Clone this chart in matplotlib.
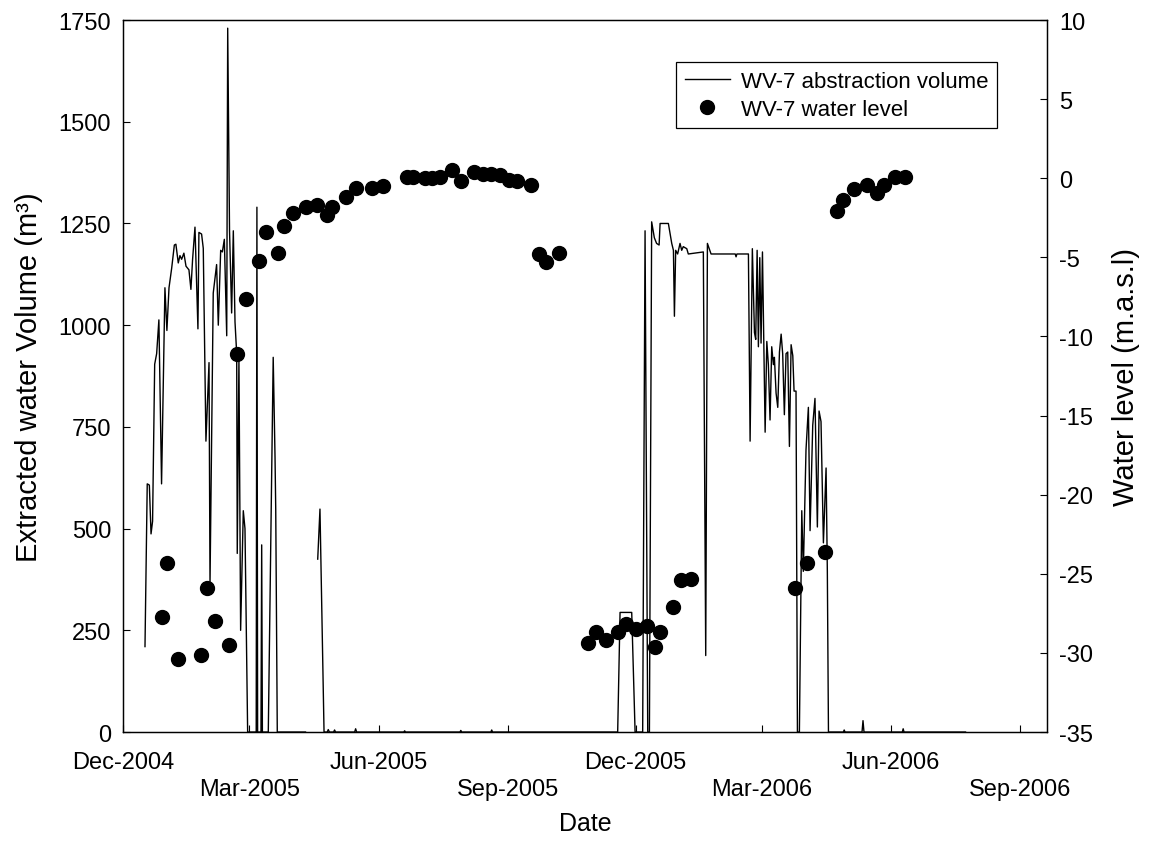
import numpy as np
import pandas as pd
import matplotlib
matplotlib.use("Agg")
import matplotlib.pyplot as plt

plt.rcParams['font.family'] = ['Liberation Sans', 'DejaVu Sans']
plt.rcParams['axes.unicode_minus'] = False

nan = np.nan
start = pd.Timestamp('2004-12-01')

# abstraction volume (days after 1 Dec 2004, m3)
vol_day = [
    15.7, 17.3, 18.8, 20.0, 21.1, 22.6, 24.0, 25.6, 27.5, 29.9,
    31.3, 32.8, 34.7, 36.6, 37.7, 39.4, 40.6, 41.8, 43.4, 44.9,
    47.0, 48.4, 49.6, 51.3, 53.4, 54.1, 56.0, 57.2, 59.1, 61.3,
    62.0, 64.3, 66.7, 67.9, 69.6, 70.8, 72.2, 73.9, 74.6, 75.9,
    77.4, 78.6, 79.8, 81.0, 81.4, 82.6, 83.8, 85.7, 86.9, 88.8,
    94.9, 95.4, 95.9, 98.3, 98.8, 99.3, 103.5, 107.0, 108.3, 108.8,
    109.9, 130.0, 136.0, 138.7, 140.3, 143.2, 145.5, 146.2, 147.0, 150.0,
    150.7, 151.4, 165.0, 165.7, 166.4, 200.0, 200.6, 201.2, 240.0, 240.6,
    241.2, 262.0, 262.6, 263.2, 352.3, 354.0, 362.3, 364.7, 370.1, 371.8,
    373.7, 374.9, 376.5, 378.4, 380.0, 381.8, 382.5, 388.4, 390.8, 392.0,
    392.7, 393.6, 395.0, 396.7, 397.9, 399.0, 401.5, 402.6, 413.3, 415.0,
    416.2, 418.8, 436.0, 436.6, 437.2, 445.4, 446.6, 448.2, 449.7, 450.6,
    451.6, 452.5, 453.5, 454.4, 455.4, 456.3, 457.3, 458.5, 459.6, 460.8,
    462.0, 463.2, 463.9, 465.1, 466.3, 467.5, 468.7, 469.8, 471.0, 472.2,
    473.4, 474.6, 475.8, 477.0, 477.9, 479.3, 480.3, 481.7, 483.4, 484.5,
    486.4, 488.1, 489.3, 491.2, 492.8, 494.5, 495.7, 497.1, 498.8, 500.7,
    501.6, 502.4, 513.0, 513.6, 514.2, 526.3, 527.0, 527.7, 555.0, 555.6,
    556.2, 600.0,
]
vol_m3 = [
    210, 610, 607, 487, 518, 904, 930, 1013, 610, 1092,
    987, 1092, 1140, 1197, 1199, 1153, 1171, 1162, 1177, 1145,
    1136, 1088, 1162, 1241, 991, 1228, 1224, 1189, 715, 908,
    364, 1079, 1149, 1000, 1184, 1180, 1211, 974, 1730, 1232,
    1030, 1232, 1008, 930, 439, 916, 250, 544, 500, 0,
    0, 1290, 0, 0, 460, 0, 0, 921, 675, 548,
    0, 0, nan, 425, 548, 0, 0, 6, 0, 0,
    5, 0, 0, 8, 0, 0, 3, 0, 0, 4,
    0, 0, 5, 0, 0, 294, 294, 0, 0, 1232,
    0, 0, 1254, 1215, 1201, 1197, 1250, 1250, 1201, 1184,
    1022, 1184, 1175, 1201, 1184, 1193, 1188, 1175, 1180, 188,
    1201, 1175, 1175, 1168, 1175, 1175, 715, 1188, 982, 965,
    1184, 947, 1166, 956, 1180, 973, 737, 960, 903, 767,
    947, 903, 921, 833, 798, 934, 978, 930, 780, 930,
    934, 702, 952, 925, 838, 838, 0, 0, 544, 395,
    693, 798, 495, 754, 820, 504, 789, 763, 465, 649,
    395, 0, 0, 5, 0, 0, 28, 0, 0, 8,
    0, 0,
]

# water level (days after 1 Dec 2004, m.a.s.l)
wl_day = [
    27.6, 31.1, 39.4, 55.8, 59.6, 65.5, 75.5, 81.4, 87.4, 97.1,
    101.9, 110.6, 114.7, 120.9, 130.1, 138.4, 145.3, 149.1, 158.8, 165.7,
    177.6, 185.4, 202.1, 206.8, 215.1, 219.9, 225.8, 234.5, 240.5, 250.2,
    256.2, 262.1, 268.5, 274.9, 280.8, 290.4, 296.5, 301.3, 310.8,
    331.2, 336.9, 343.8, 352.3, 358.3, 365.2, 373.0, 378.9, 382.7, 391.5,
    397.4, 404.6,
    478.6, 487.0, 500.0, 508.3, 512.6, 520.9, 530.1, 536.8, 542.0, 549.9,
    557.0,
]
wl_masl = [
    -27.7, -24.3, -30.4, -30.1, -25.9, -28.0, -29.5, -11.1, -7.6, -5.2,
    -3.4, -4.7, -3.0, -2.2, -1.8, -1.7, -2.3, -1.8, -1.2, -0.6,
    -0.6, -0.5, 0.1, 0.1, 0.0, 0.0, 0.1, 0.5, -0.2, 0.4,
    0.3, 0.3, 0.2, -0.1, -0.2, -0.4, -4.8, -5.3, -4.7,
    -29.4, -28.7, -29.2, -28.7, -28.2, -28.5, -28.3, -29.6, -28.7, -27.1,
    -25.4, -25.3,
    -25.9, -24.3, -23.6, -2.1, -1.4, -0.7, -0.4, -0.9, -0.4, 0.1,
    0.1,
]

# date ticks: upper row and lower (staggered) row
upper_dates = ['2004-12-01', '2005-06-01', '2005-12-01', '2006-06-01']
upper_labels = ['Dec-2004', 'Jun-2005', 'Dec-2005', 'Jun-2006']
lower_dates = ['2005-03-01', '2005-09-01', '2006-03-01', '2006-09-01']
lower_labels = ['Mar-2005', 'Sep-2005', 'Mar-2006', 'Sep-2006']

vol_dates = start + pd.to_timedelta(vol_day, unit='D')
wl_dates = start + pd.to_timedelta(wl_day, unit='D')

fig = plt.figure(figsize=(11.49, 8.45), dpi=100)
ax = fig.add_axes([0.107, 0.1325, 0.8042, 0.8426])
ax2 = ax.twinx()

l1, = ax.plot(vol_dates, vol_m3, color='black', lw=1.0, label='WV-7 abstraction volume')
l2, = ax2.plot(wl_dates, wl_masl, 'o', color='black', ms=10, label='WV-7 water level')

ax.set_xlim(pd.Timestamp('2004-12-01'), pd.Timestamp('2006-09-20'))
ax.set_ylim(0, 1750)
ax2.set_ylim(-35, 10)
ax.set_yticks(np.arange(0, 1751, 250))
ax2.set_yticks(np.arange(-35, 11, 5))

ax.set_xticks(pd.to_datetime(upper_dates))
ax.set_xticklabels(upper_labels)
ax.set_xticks(pd.to_datetime(lower_dates), minor=True)
ax.set_xticklabels(lower_labels, minor=True)

for a in (ax, ax2):
    a.tick_params(axis='y', direction='in', length=5, width=0.8, labelsize=17, pad=8.5)
    for s in a.spines.values():
        s.set_linewidth(0.9)
ax.tick_params(axis='x', which='major', direction='in', length=5, width=0.8,
               labelsize=17, pad=13.5)
ax.tick_params(axis='x', which='minor', direction='in', length=5, width=0.8,
               labelsize=17, pad=33.1)

ax.set_ylabel('Extracted water Volume (m³)', fontsize=21, labelpad=11)
ax2.set_ylabel('Water level (m.a.s.l)', fontsize=21, labelpad=14)
ax.set_xlabel('Date', fontsize=18, labelpad=8)

leg = ax2.legend([l1, l2], [l1.get_label(), l2.get_label()], loc='upper right',
                 bbox_to_anchor=(0.946, 0.941), borderaxespad=0, fontsize=16,
                 fancybox=False, framealpha=1, edgecolor='black',
                 handlelength=2.0, borderpad=0.4, labelspacing=0.3, handletextpad=0.5)
leg.get_frame().set_linewidth(0.9)

fig.savefig('out.png', dpi=100)
